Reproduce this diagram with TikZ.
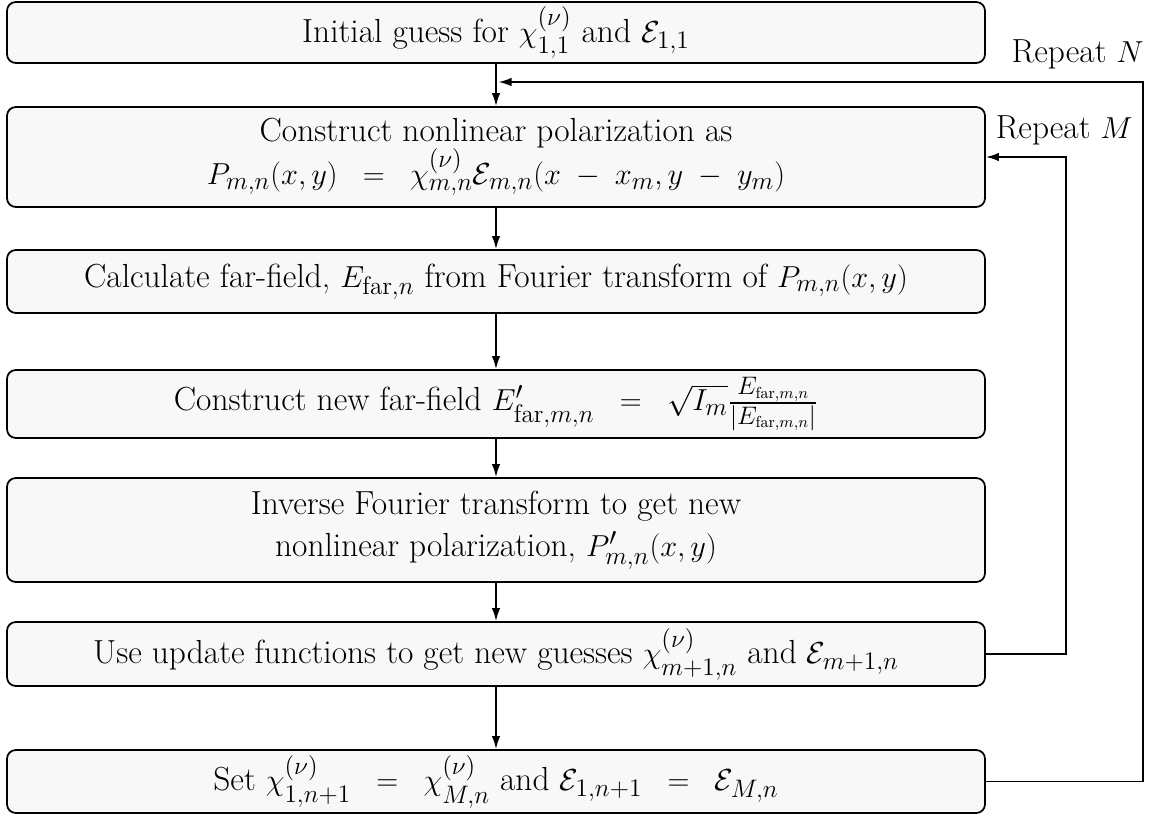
\documentclass[tikz,border=0pt]{standalone}
\usepackage{amsmath}
\usepackage{amssymb}
\usepackage{tikz}
\usetikzlibrary{arrows.meta,positioning}
\definecolor{boxfill}{RGB}{248,248,248}

\begin{document}
\begin{tikzpicture}[font=\fontsize{19}{24.4}\selectfont,
  stepbox/.style={draw, line width=1pt, rounded corners=5pt, fill=boxfill, minimum width=19.56cm, align=center, inner sep=2pt},
  flow/.style={-{Latex[length=2.6mm,width=1.7mm]}, line width=1pt}]
\useasboundingbox (0,0) rectangle (23.12,-16.34);
% main steps
\node[stepbox, minimum height=1.22cm] (init) at (9.92,-0.65) {Initial guess for $\chi^{(\nu)}_{1,1}$ and $\mathcal{E}_{1,1}$};
\node[stepbox, minimum height=2.0cm] (pol) at (9.92,-3.14) {Construct nonlinear polarization as\\ $P_{m,n}(x,y) \;\;=\;\; \chi^{(\nu)}_{m,n}\mathcal{E}_{m,n}(x\;-\;x_m, y\;-\;y_m)$};
\node[stepbox, minimum height=1.26cm] (far) at (9.92,-5.63) {Calculate far-field, $E_{\mathrm{far},n}$ from Fourier transform of $P_{m,n}(x,y)$};
\node[stepbox, minimum height=1.36cm] (newfar) at (9.92,-8.08) {Construct new far-field $E'_{\mathrm{far},m,n} \;\;=\;\; \sqrt{I_m}\frac{E_{\mathrm{far},m,n}}{|E_{\mathrm{far},m,n}|}$};
\node[stepbox, minimum height=2.08cm] (inv) at (9.92,-10.6) {Inverse Fourier transform to get new\\ nonlinear polarization, $P'_{m,n}(x,y)$};
\node[stepbox, minimum height=1.28cm] (upd) at (9.92,-13.08) {Use update functions to get new guesses $\chi^{(\nu)}_{m+1,n}$ and $\mathcal{E}_{m+1,n}$};
\node[stepbox, minimum height=1.26cm] (set) at (9.92,-15.63) {Set $\chi^{(\nu)}_{1,n+1} \;\;=\;\; \chi^{(\nu)}_{M,n}$ and $\mathcal{E}_{1,n+1} \;\;=\;\; \mathcal{E}_{M,n}$};
% loop labels
\node[anchor=base east, inner sep=0pt] (repn) at (22.88,-1.26) {Repeat $N$};
\node[anchor=base east, inner sep=0pt] (repm) at (22.66,-2.78) {Repeat $M$};
% arrows down
\draw[flow] (init) -- (pol);
\draw[flow] (pol) -- (far);
\draw[flow] (far) -- (newfar);
\draw[flow] (newfar) -- (inv);
\draw[flow] (inv) -- (upd);
\draw[flow] (upd) -- (set);
% loops
\coordinate (nin) at (9.97,-1.64);
\draw[flow] (set.east) -- ++(3.14,0) |- (nin);
\draw[flow] (upd.east) -- ++(1.6,0) |- (pol.east);
\end{tikzpicture}
\end{document}
